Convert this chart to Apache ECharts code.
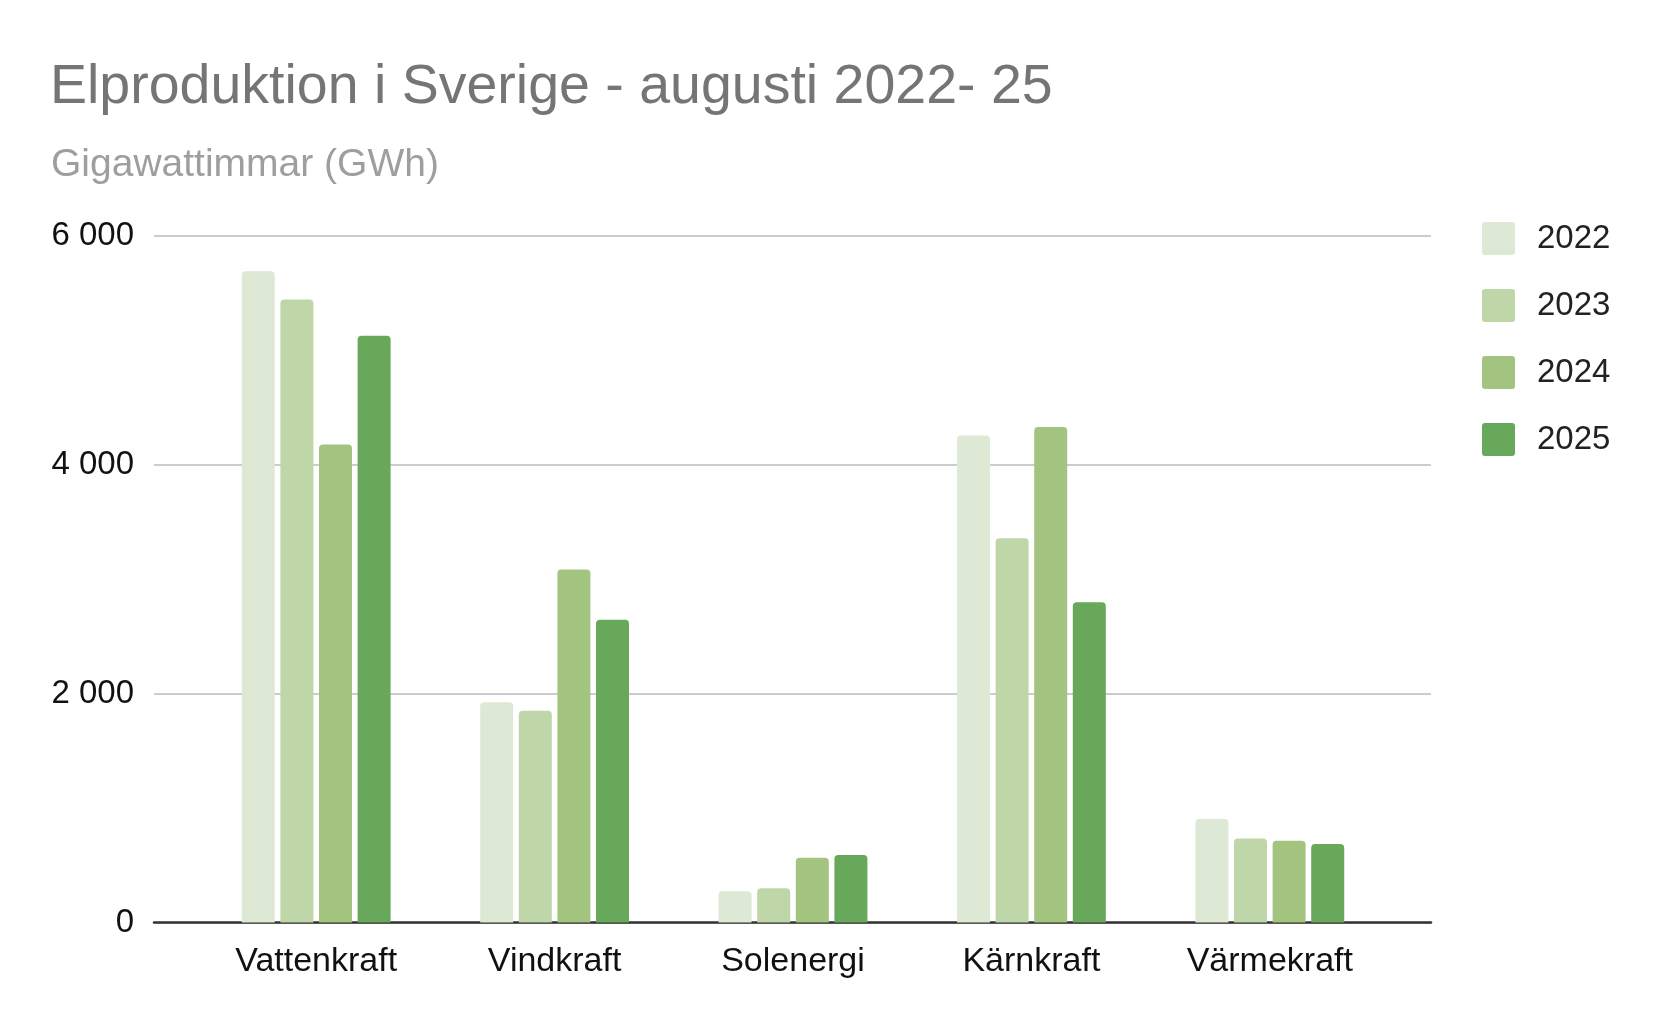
<!DOCTYPE html>
<html>
<head>
<meta charset="utf-8">
<script src="https://cdn.jsdelivr.net/npm/echarts@6/dist/echarts.min.js"></script>
<style>
html,body{margin:0;padding:0;background:#fff;}
#chart{width:1666px;height:1030px;}
</style>
</head>
<body>
<div id="chart"></div>
<script>
const titleText = 'Elproduktion i Sverige - augusti 2022- 25';
const subtitleText = 'Gigawattimmar (GWh)';
const categories = ['Vattenkraft', 'Vindkraft', 'Solenergi', 'Kärnkraft', 'Värmekraft'];
const seriesNames = ['2022', '2023', '2024', '2025'];
const values2022 = [5687, 1924, 272, 4254, 903];
const values2023 = [5440, 1850, 300, 3356, 734];
const values2024 = [4174, 3082, 566, 4327, 713];
const values2025 = [5125, 2645, 590, 2796, 685];
const yTickValues = [0, 2000, 4000, 6000];
const yTickLabels = ['0', '2 000', '4 000', '6 000'];
const colors = ['#dde9d4', '#bfd7a8', '#a2c47f', '#68a85a'];

const allValues = [values2022, values2023, values2024, values2025];
const FONT = '"Liberation Sans", Arial, sans-serif';

const chart = echarts.init(document.getElementById('chart'), null, {renderer: 'canvas'});

const gridTop = 235.5, gridBottom = 107.5;
const legendIcon = 'path://M3,0 H30 A3,3 0 0 1 33,3 V30 A3,3 0 0 1 30,33 H3 A3,3 0 0 1 0,30 V3 A3,3 0 0 1 3,0 Z';

const option = {
  animation: false,
  backgroundColor: '#ffffff',
  title: [
    {text: titleText, left: 45, top: 55,
     textStyle: {fontFamily: FONT, fontSize: 55.5, fontWeight: 'normal', color: '#757575'}},
    {text: subtitleText, left: 46, top: 141,
     textStyle: {fontFamily: FONT, fontSize: 39, fontWeight: 'normal', color: '#9e9e9e'}}
  ],
  legend: {
    orient: 'vertical', left: 1477, top: 217,
    itemWidth: 33, itemHeight: 33, itemGap: 34,
    icon: legendIcon,
    data: seriesNames,
    textStyle: {fontFamily: FONT, fontSize: 33, color: '#222222', padding: [0, 0, 0, 17]}
  },
  grid: [
    {left: 154, right: 235, top: gridTop, bottom: gridBottom},
    {left: 197, right: 277, top: gridTop, bottom: gridBottom}
  ],
  xAxis: [
    {type: 'category', gridIndex: 0, data: [''],
     axisLine: {show: true, lineStyle: {color: '#333333', width: 2.5}},
     axisTick: {show: false}, axisLabel: {show: false}, splitLine: {show: false}},
    {type: 'category', gridIndex: 1, data: categories,
     axisLine: {show: false}, axisTick: {show: false},
     axisLabel: {fontFamily: FONT, fontSize: 34, color: '#111111', margin: 22}}
  ],
  yAxis: [
    {type: 'value', gridIndex: 0, min: 0, max: 6000, interval: 2000,
     axisLine: {show: false}, axisTick: {show: false},
     splitLine: {lineStyle: {color: '#cccccc', width: 2}},
     axisLabel: {fontFamily: FONT, fontSize: 33, color: '#111111', margin: 20, padding: [4, 0, 0, 0],
       formatter: function (v) { const i = yTickValues.indexOf(v); return i >= 0 ? yTickLabels[i] : ''; }}},
    {type: 'value', gridIndex: 1, min: 0, max: 6000, interval: 2000, show: false,
     splitLine: {show: false}}
  ],
  series: seriesNames.map(function (name, i) {
    return {
      name: name, type: 'bar', xAxisIndex: 1, yAxisIndex: 1,
      data: allValues[i],
      barWidth: 33, barGap: '17%',
      itemStyle: {color: colors[i], borderRadius: [4, 4, 0, 0]},
      z: 1
    };
  })
};
chart.setOption(option);
</script>
</body>
</html>
